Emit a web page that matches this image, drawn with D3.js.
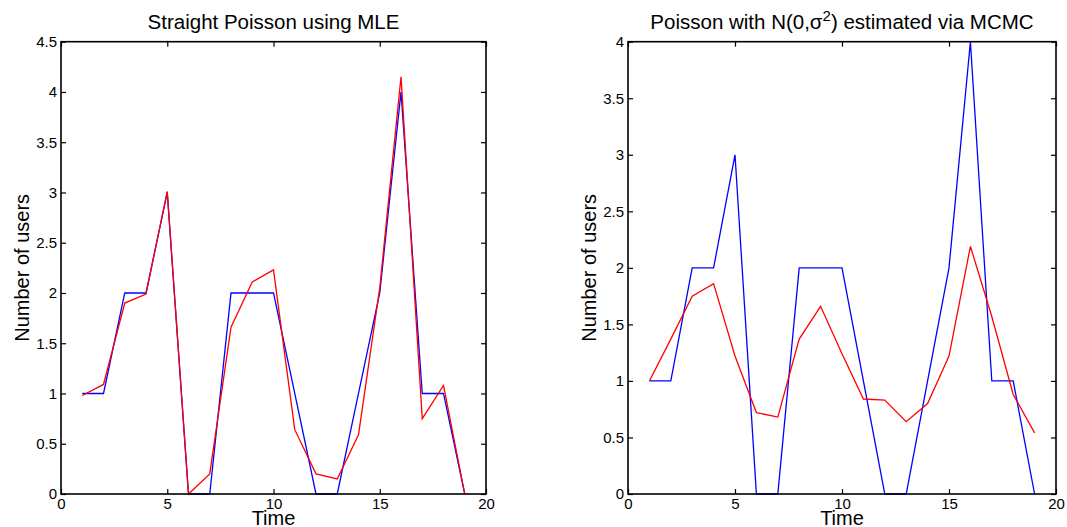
<!doctype html>
<meta charset="utf-8">

<style>
body {
  margin: 0;
  background: #fff;
}
svg {
  display: block;
  font-family: "Liberation Sans", Arial, Helvetica, sans-serif;
}
.tick text {
  font-size: 15px;
  fill: #000;
}
.title {
  font-size: 20.5px;
  fill: #000;
  text-anchor: middle;
}
.xlabel, .ylabel {
  font-size: 20px;
  fill: #000;
  text-anchor: middle;
}
</style>

<svg id="fig" width="1067" height="527"></svg>

<script src="https://d3js.org/d3.v7.min.js"></script>

<script>
  // time steps and observed counts (blue), fitted means (red)
  let time = [1, 2, 3, 4, 5, 6, 7, 8, 9, 10, 11, 12, 13, 14, 15, 16, 17, 18, 19];
  let observed = [1, 1, 2, 2, 3, 0, 0, 2, 2, 2, 1, 0, 0, 1, 2, 4, 1, 1, 0];
  let mleFit = [0.98, 1.09, 1.90, 1.99, 3.01, 0, 0.20, 1.66, 2.11, 2.23, 0.64, 0.20, 0.15, 0.59, 2.05, 4.15, 0.75, 1.08, 0];
  let mcmcFit = [1.0, 1.37, 1.75, 1.86, 1.22, 0.72, 0.68, 1.37, 1.66, 1.24, 0.84, 0.83, 0.64, 0.80, 1.22, 2.19, 1.57, 0.88, 0.54];

  let xTicks = [0, 5, 10, 15, 20];
  let yTicksLeft = [0, 0.5, 1, 1.5, 2, 2.5, 3, 3.5, 4, 4.5];
  let yTicksRight = [0, 0.5, 1, 1.5, 2, 2.5, 3, 3.5, 4];

  let svg = d3.select("#fig");
  let yTop = 41.7, yBottom = 494;
  let fmt = d3.format("~g");

  function panel(left, right, yMax, yTicks, fit, titleFn) {
    let x = d3.scaleLinear().domain([0, 20]).range([left, right]);
    let y = d3.scaleLinear().domain([0, yMax]).range([yBottom, yTop]);
    let g = svg.append("g");

    let line = d3.line()
      .x((d, i) => x(time[i]))
      .y(d => y(d));

    g.append("path")
      .datum(observed)
      .attr("d", line)
      .attr("fill", "none")
      .attr("stroke", "#0000ff")
      .attr("stroke-width", 1.3);

    g.append("path")
      .datum(fit)
      .attr("d", line)
      .attr("fill", "none")
      .attr("stroke", "#ff0000")
      .attr("stroke-width", 1.3);

    // axes, ticks pointing inward like matlab
    let axes = [
      [d3.axisBottom(x).tickValues(xTicks).tickFormat(fmt).tickPadding(4), "translate(0," + yBottom + ")"],
      [d3.axisTop(x).tickValues(xTicks).tickFormat(""), "translate(0," + yTop + ")"],
      [d3.axisLeft(y).tickValues(yTicks).tickFormat(fmt).tickPadding(4), "translate(" + left + ",0)"],
      [d3.axisRight(y).tickValues(yTicks).tickFormat(""), "translate(" + right + ",0)"]
    ];
    axes.forEach(a => {
      let ax = g.append("g")
        .attr("transform", a[1])
        .call(a[0].tickSizeInner(-5).tickSizeOuter(0));
      ax.select(".domain").remove();
      ax.selectAll(".tick line").attr("stroke", "#000").attr("stroke-width", 1.2);
      ax.attr("font-family", null).attr("font-size", null);
    });

    g.append("rect")
      .attr("x", left)
      .attr("y", yTop)
      .attr("width", right - left)
      .attr("height", yBottom - yTop)
      .attr("fill", "none")
      .attr("stroke", "#000")
      .attr("stroke-width", 1.6);

    let t = g.append("text")
      .attr("class", "title")
      .attr("x", (left + right) / 2)
      .attr("y", 29);
    titleFn(t);

    g.append("text")
      .attr("class", "xlabel")
      .attr("x", (left + right) / 2)
      .attr("y", 525)
      .text("Time");

    g.append("text")
      .attr("class", "ylabel")
      .attr("transform", "translate(" + (left - 32) + "," + ((yTop + yBottom) / 2) + ") rotate(-90)")
      .text("Number of users");
  }

  panel(61, 486, 4.5, yTicksLeft, mleFit, t => t.text("Straight Poisson using MLE"));

  panel(628, 1056, 4, yTicksRight, mcmcFit, t => {
    t.append("tspan").text("Poisson with N(0,\u03c3");
    t.append("tspan").attr("dy", -8).attr("font-size", 15).text("2");
    t.append("tspan").attr("dy", 8).text(") estimated via MCMC");
  });
</script>
